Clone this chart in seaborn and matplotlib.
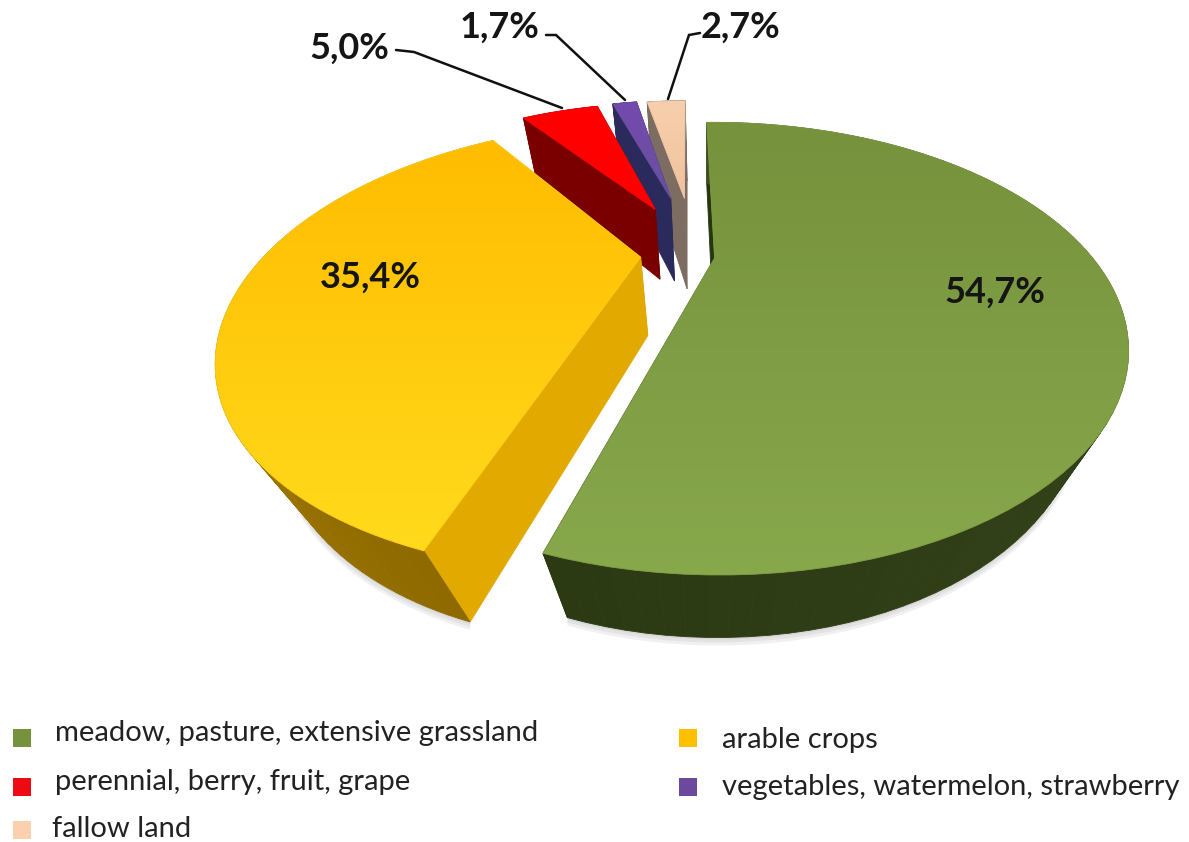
#!/usr/bin/env python3
from __future__ import annotations

import numpy as np
import seaborn as sns
import matplotlib

matplotlib.use("Agg")
import matplotlib.pyplot as plt
from matplotlib.patches import Polygon

# Chart values, clockwise from 12 o'clock
CATEGORIES = [
    "meadow, pasture, extensive grassland",
    "arable crops",
    "perennial, berry, fruit, grape",
    "vegetables, watermelon, strawberry",
    "fallow land",
]
SHARES = [54.7, 35.4, 5.0, 1.7, 2.7]
VALUE_LABELS = ["54,7%", "35,4%", "5,0%", "1,7%", "2,7%"]

# Per-slice styling
EXPLODE = [0.005, 0.16, 0.30, 0.37, 0.36]
SHIFT_X = [0.015, -0.018, -0.02, -0.02, -0.03]
SHIFT_Y = [0.0, 0.03, 0.015, 0.0, 0.0]
RADIUS = [1.0, 1.0, 0.93, 0.88, 0.88]
DEPTH = [0.98, 1.1, 1.0, 1.22, 1.35]
TOP_COLORS = [
    ("#76923C", "#88A84C"),
    ("#FFBC00", "#FFDA1C"),
    ("#FF0000", "#FF0000"),
    ("#7549AE", "#66529E"),
    ("#F8CFAE", "#EFC29C"),
]
WALL_COLORS = ["#24380F", "#E2AA00", "#7A0000", "#2B2A5C", "#7D6C62"]
RIM_COLORS = [
    ("#3E5020", "#2C3A14"),
    ("#8E6A00", "#C49000"),
    ("#7A0000", "#7A0000"),
    ("#2B2A5C", "#2B2A5C"),
    ("#7D6C62", "#7D6C62"),
]
LEGEND_COLORS = ["#76923C", "#FFC000", "#EE0A14", "#6B4A9E", "#FBD0AE"]

# Where labels and legend rows sit, in pixels
LABEL_XY = [(995, 292), (370, 277), (349, 48), (500, 27), (741, 27)]
LEADERS = [
    None,
    None,
    [(396, 50), (414, 52), (562, 108)],
    [(546, 35), (556, 35), (625, 100)],
    [(700, 33), (689, 35), (668, 99)],
]
LEGEND_MARK_XY = [(22, 738), (688, 738), (22, 787), (688, 787), (22, 830)]
LEGEND_TEXT_XY = [(55, 733), (722, 740), (55, 782), (722, 787), (52, 829)]

# Perspective camera, fitted to the rim of the pie
CX, CY = 707.0, 258.0
F, G, H = 378.0, 190.0, 80.0
K, M = 0.40, 0.11
START_DEG = -1.2


def project(x, y, z=0.0):
    w = 1 + K * np.asarray(y) + M * z
    return CX + F * np.asarray(x) / w, CY + (-G * np.asarray(y) + H * z) / w


def gradient_fill(ax, xs, ys, colors):
    poly = Polygon(np.c_[xs, ys], closed=True, facecolor="none", edgecolor="none")
    ax.add_patch(poly)
    ramp = sns.blend_palette(list(colors), n_colors=64)
    img = np.array(ramp).reshape(64, 1, 3)
    im = ax.imshow(
        img,
        extent=(xs.min(), xs.max(), ys.max(), ys.min()),
        origin="upper",
        aspect="auto",
        interpolation="bilinear",
        zorder=poly.get_zorder(),
    )
    im.set_clip_path(poly)
    # antialiased edge for the clipped image
    ax.fill(xs, ys, facecolor="none", edgecolor=ramp[32], linewidth=0.6)


def draw_slice(ax, start, end, explode, shift, radius, depth, top, wall, rim):
    mid = (start + end) / 2
    ox, oy = explode * np.sin(mid) + shift[0], explode * np.cos(mid) + shift[1]
    theta = np.linspace(start, end, 90)
    ux, uy = ox + radius * np.sin(theta), oy + radius * np.cos(theta)

    sx_top, sy_top = project(ux, uy, 0.0)
    sx_bot, sy_bot = project(ux, uy, depth)
    ax_top, ay_top = project(ox, oy, 0.0)
    ax_bot, ay_bot = project(ox, oy, depth)

    # soft shadow for the large slices
    if radius > 0.9 and explode < 0.2:
        for d in (8, 5, 2):
            ax.fill(
                np.r_[sx_bot, sx_bot[::-1]],
                np.r_[sy_bot + d, sy_bot[::-1] - 6],
                color="#8A8A8A",
                alpha=0.12,
                linewidth=0,
            )

    # the two cut faces
    for j in (0, -1):
        ax.fill(
            [ax_top, sx_top[j], sx_bot[j], ax_bot],
            [ay_top, sy_top[j], sy_bot[j], ay_bot],
            color=wall,
            linewidth=0.6,
        )

    # outer rim, quad by quad so the shade can run along it
    ramp = sns.blend_palette(list(rim), n_colors=len(theta) - 1)
    for i in range(len(theta) - 1):
        ax.fill(
            [sx_top[i], sx_top[i + 1], sx_bot[i + 1], sx_bot[i]],
            [sy_top[i], sy_top[i + 1], sy_bot[i + 1], sy_bot[i]],
            color=ramp[i],
            linewidth=0.6,
        )

    gradient_fill(ax, np.r_[ax_top, sx_top], np.r_[ay_top, sy_top], top)


def main() -> None:
    sns.set_theme(style="white")
    plt.rcParams["font.family"] = ["Lato", "DejaVu Sans"]

    fig, ax = plt.subplots(figsize=(11.89, 8.42), dpi=100)
    ax.set_position([0, 0, 1, 1])
    ax.axis("off")

    shares = np.array(SHARES)
    edges = np.r_[0, np.cumsum(shares / shares.sum())] * 2 * np.pi + np.radians(START_DEG)

    # back slices first, the two big ones last
    for i in (4, 3, 2, 1, 0):
        draw_slice(
            ax,
            edges[i],
            edges[i + 1],
            EXPLODE[i],
            (SHIFT_X[i], SHIFT_Y[i]),
            RADIUS[i],
            DEPTH[i],
            TOP_COLORS[i],
            WALL_COLORS[i],
            RIM_COLORS[i],
        )

    for label, (x, y), leader in zip(VALUE_LABELS, LABEL_XY, LEADERS):
        ax.text(x, y, label, ha="center", va="center", fontsize=26, fontweight="bold", color="#151515")
        if leader:
            ax.plot(*zip(*leader), color="#101010", linewidth=1.8, solid_joinstyle="miter")

    sns.scatterplot(
        x=[p[0] for p in LEGEND_MARK_XY],
        y=[p[1] for p in LEGEND_MARK_XY],
        hue=CATEGORIES,
        palette=LEGEND_COLORS,
        marker="s",
        s=160,
        linewidth=0,
        legend=False,
        ax=ax,
    )
    for name, (x, y) in zip(CATEGORIES, LEGEND_TEXT_XY):
        ax.text(x, y, name, ha="left", va="center", fontsize=21, color="#222222")

    ax.set_xlim(0, 1189)
    ax.set_ylim(842, 0)
    ax.axis("off")
    fig.savefig("out.png", dpi=100, facecolor="white")
    plt.close(fig)


if __name__ == "__main__":
    main()
